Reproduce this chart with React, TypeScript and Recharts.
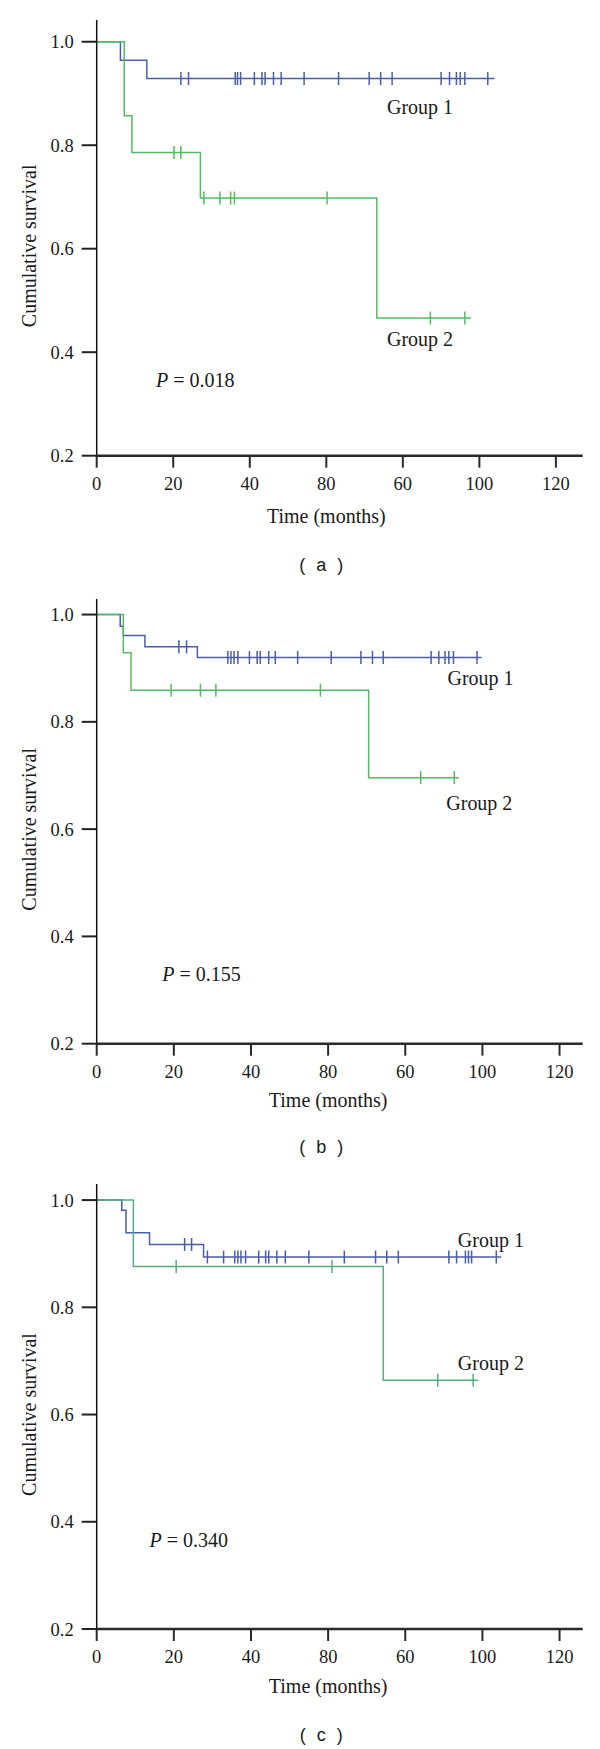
import { LineChart, Line, XAxis, YAxis, ReferenceDot } from "recharts";

const xTicks = [0, 20, 40, 60, 80, 100, 120];
// printed tick labels (as in the source figure)
const xTickLabels = ["0", "20", "40", "80", "60", "100", "120"];
const yTicks = [0.2, 0.4, 0.6, 0.8, 1.0];

// panel (a)
const aG1StepT = [0, 6.2, 13.1];
const aG1StepS = [1, 0.964, 0.929];
const aG1Cens = [22, 24, 36.2, 36.8, 37.6, 41.2, 43.2, 44, 46.2, 48.2, 54.2, 63.2, 71.2, 74.2, 77.2, 90, 92.2, 94, 95, 96.2, 102.2];
const aG1End = 104;
const aG2StepT = [0, 7.2, 9.2, 27.1, 73.2];
const aG2StepS = [1, 0.857, 0.786, 0.698, 0.466];
const aG2Cens = [20.2, 22, 28, 32.2, 35, 36, 60.2, 87.2, 96.2];
const aG2End = 97.8;

// panel (b)
const bG1StepT = [0, 6.1, 6.9, 12.5, 26.1];
const bG1StepS = [1, 0.978, 0.961, 0.94, 0.92];
const bG1Cens = [21.3, 23.3, 34, 34.8, 35.6, 36.6, 39.6, 41.6, 42.4, 44.6, 46.3, 52.1, 60.8, 68.5, 71.5, 74.3, 86.7, 88.7, 90.3, 91.3, 92.5, 98.6];
const bG1End = 99.8;
const bG2StepT = [0, 6.9, 8.9, 70.5];
const bG2StepS = [1, 0.929, 0.859, 0.696];
const bG2Cens = [19.3, 26.9, 30.9, 58, 84, 92.7];
const bG2End = 93.9;

// panel (c)
const cG1StepT = [0, 6.5, 7.6, 13.7, 27.7];
const cG1StepS = [1, 0.981, 0.939, 0.917, 0.894];
const cG1Cens = [22.8, 24.6, 28.7, 32.9, 35.8, 36.6, 37.4, 38.6, 42, 43.8, 44.6, 46.7, 48.9, 55, 64.2, 72.3, 75.2, 78.2, 91.3, 93.3, 95.6, 96.4, 97.2, 103.6];
const cG1End = 104.9;
const cG2StepT = [0, 9.5, 74.3];
const cG2StepS = [1, 0.876, 0.664];
const cG2Cens = [20.6, 61, 88.4, 97.6];
const cG2End = 98.8;

const BLUE = "#4a5ea6";
const GREEN = "#55b865";
const TEAL = "#55ad7c";
const SERIF = "'Liberation Serif', 'Times New Roman', serif";

type Pt = { t: number; s: number; c: boolean };

// KM step points + censor marks (censor value = current step level)
function km(stepT: number[], stepS: number[], cens: number[], end: number): Pt[] {
  const pts: Pt[] = stepT.map((t, i) => ({ t, s: stepS[i], c: false }));
  cens.forEach((t) => {
    let s = stepS[0];
    stepT.forEach((st, i) => {
      if (st <= t) s = stepS[i];
    });
    pts.push({ t, s, c: true });
  });
  pts.push({ t: end, s: stepS[stepS.length - 1], c: false });
  return pts.sort((p, q) => p.t - q.t);
}

const censorDot = (color: string) => (props: any) => {
  const { cx, cy, payload, index } = props;
  if (!payload || !payload.c) return <g key={index} />;
  return <line key={index} x1={cx} x2={cx} y1={cy - 6.5} y2={cy + 6.5} stroke={color} strokeWidth={1.5} />;
};

function Note(props: any) {
  const { viewBox, text, anchor, italicP } = props;
  const x = viewBox.x + (viewBox.width || 0) / 2;
  const y = viewBox.y + (viewBox.height || 0) / 2;
  if (italicP) {
    return (
      <text x={x} y={y} dominantBaseline="central" textAnchor="start" fontFamily={SERIF} fontSize={20} fill="#1a1a1a">
        <tspan fontStyle="italic">P</tspan>
        <tspan> = {text}</tspan>
      </text>
    );
  }
  return (
    <text x={x} y={y} dominantBaseline="central" textAnchor={anchor || "middle"} fontFamily={SERIF} fontSize={20} fill="#1a1a1a">
      {text}
    </text>
  );
}

function YTitle(props: any) {
  const { viewBox, dy } = props;
  const cy = viewBox.y + viewBox.height / 2 + dy;
  return (
    <text x={29} y={cy} transform={`rotate(-90, 29, ${cy})`} textAnchor="middle" dominantBaseline="central" fontFamily={SERIF} fontSize={20} fill="#1a1a1a">
      Cumulative survival
    </text>
  );
}

function XTitle(props: any) {
  const { viewBox, xMax, dy } = props;
  const cx = viewBox.x + (viewBox.width * 60) / xMax;
  return (
    <text x={cx} y={viewBox.y + dy} textAnchor="middle" dominantBaseline="central" fontFamily={SERIF} fontSize={20} fill="#1a1a1a">
      Time (months)
    </text>
  );
}

type PanelProps = {
  plotTop: number;
  plotBottom: number;
  yMax: number;
  xMax: number;
  g1: Pt[];
  g2: Pt[];
  g2Color: string;
  g1Label: [number, number];
  g2Label: [number, number];
  pLabel: [number, number];
  pText: string;
  titleDy: number;
  caption: string;
  captionY: number;
};

function Panel(p: PanelProps) {
  const mTop = 20;
  const plotH = p.plotBottom - p.plotTop;
  const height = mTop + plotH + 80;
  return (
    <>
      <div style={{ position: "absolute", left: 0, top: p.plotTop - mTop }}>
        <LineChart width={600} height={height} margin={{ top: mTop, right: 17.3, bottom: 0, left: 0 }}>
          <XAxis
            type="number"
            dataKey="t"
            domain={[0, p.xMax]}
            ticks={xTicks}
            tickFormatter={(v: number) => xTickLabels[xTicks.indexOf(v)]}
            height={80}
            tickSize={12}
            tickMargin={9}
            axisLine={{ stroke: "#2a2a2a", strokeWidth: 2.5 }}
            tickLine={{ stroke: "#2a2a2a", strokeWidth: 2 }}
            tick={{ fontSize: 18.5, fill: "#1a1a1a", fontFamily: SERIF }}
            allowDataOverflow
            label={<XTitle xMax={p.xMax} dy={p.titleDy} />}
          />
          <YAxis
            type="number"
            domain={[0.2, p.yMax]}
            ticks={yTicks}
            tickFormatter={(v: number) => v.toFixed(1)}
            width={96.7}
            tickSize={15}
            tickMargin={8}
            axisLine={{ stroke: "#111", strokeWidth: 1.5 }}
            tickLine={{ stroke: "#222", strokeWidth: 2 }}
            tick={{ fontSize: 18.5, fill: "#1a1a1a", fontFamily: SERIF }}
            allowDataOverflow
            label={<YTitle dy={8} />}
          />
          <Line data={p.g1} dataKey="s" type="stepAfter" stroke={BLUE} strokeWidth={1.5} dot={censorDot(BLUE)} activeDot={false} isAnimationActive={false} />
          <Line data={p.g2} dataKey="s" type="stepAfter" stroke={p.g2Color} strokeWidth={1.5} dot={censorDot(p.g2Color)} activeDot={false} isAnimationActive={false} />
          <ReferenceDot x={p.g1Label[0]} y={p.g1Label[1]} r={0} fill="none" stroke="none" label={<Note text="Group 1" />} />
          <ReferenceDot x={p.g2Label[0]} y={p.g2Label[1]} r={0} fill="none" stroke="none" label={<Note text="Group 2" />} />
          <ReferenceDot x={p.pLabel[0]} y={p.pLabel[1]} r={0} fill="none" stroke="none" label={<Note text={p.pText} italicP />} />
        </LineChart>
      </div>
      <div
        style={{
          position: "absolute",
          left: 272.7,
          width: 100,
          top: p.captionY - 12,
          height: 24,
          lineHeight: "24px",
          textAlign: "center",
          fontFamily: "'Liberation Sans', Arial, sans-serif",
          fontSize: 18,
          letterSpacing: 3,
          color: "#1a1a1a",
          whiteSpace: "pre",
        }}
      >
        {p.caption}
      </div>
    </>
  );
}

export default function App() {
  return (
    <div style={{ position: "absolute", left: 0, top: 0, width: 600, height: 1749, background: "#fff" }}>
      <Panel
        plotTop={20}
        plotBottom={455.7}
        yMax={1.042}
        xMax={127}
        g1={km(aG1StepT, aG1StepS, aG1Cens, aG1End)}
        g2={km(aG2StepT, aG2StepS, aG2Cens, aG2End)}
        g2Color={GREEN}
        g1Label={[84.5, 0.874]}
        g2Label={[84.5, 0.425]}
        pLabel={[15.5, 0.346]}
        pText="0.018"
        titleDy={60}
        caption="( a )"
        captionY={565}
      />
      <Panel
        plotTop={599.3}
        plotBottom={1044}
        yMax={1.029}
        xMax={126}
        g1={km(bG1StepT, bG1StepS, bG1Cens, bG1End)}
        g2={km(bG2StepT, bG2StepS, bG2Cens, bG2End)}
        g2Color={GREEN}
        g1Label={[99.5, 0.882]}
        g2Label={[99.2, 0.649]}
        pLabel={[17, 0.329]}
        pText="0.155"
        titleDy={56}
        caption="( b )"
        captionY={1146.7}
      />
      <Panel
        plotTop={1184}
        plotBottom={1629}
        yMax={1.03}
        xMax={126}
        g1={km(cG1StepT, cG1StepS, cG1Cens, cG1End)}
        g2={km(cG2StepT, cG2StepS, cG2Cens, cG2End)}
        g2Color={TEAL}
        g1Label={[102.2, 0.925]}
        g2Label={[102.2, 0.697]}
        pLabel={[13.7, 0.366]}
        pText="0.340"
        titleDy={57}
        caption="( c )"
        captionY={1735}
      />
    </div>
  );
}
